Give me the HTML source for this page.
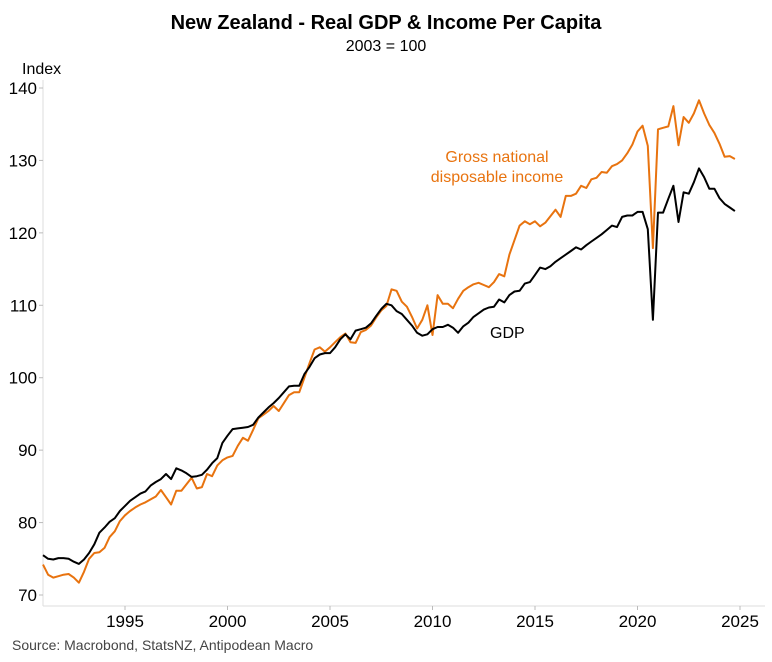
<!DOCTYPE html>
<html><head><meta charset="utf-8"><style>
body{margin:0;background:#fff;font-family:"Liberation Sans",Arial,sans-serif}
svg text{font-family:"Liberation Sans",Arial,sans-serif}
</style></head><body>
<svg id="chart" width="772" height="657">
<text x="386" y="29" text-anchor="middle" font-size="20" font-weight="bold" fill="#000">New Zealand - Real GDP &amp; Income Per Capita</text>
<text x="386" y="51" text-anchor="middle" font-size="16" fill="#000">2003 = 100</text>
<text x="22" y="74" font-size="16" fill="#000">Index</text>
<line x1="43" y1="80" x2="43" y2="606" stroke="#ddd" stroke-width="1"/>
<line x1="43" y1="606" x2="765" y2="606" stroke="#ddd" stroke-width="1"/>
<g id="yticks"></g><g id="xticks"></g><g id="series"></g>
<text x="497" y="162" text-anchor="middle" font-size="16" fill="#e8730f">Gross national</text>
<text x="497" y="182" text-anchor="middle" font-size="16" fill="#e8730f">disposable income</text>
<text x="490" y="338" font-size="16" fill="#000">GDP</text>
<text x="12" y="650" font-size="14" fill="#444">Source: Macrobond, StatsNZ, Antipodean Macro</text>
</svg>
<script>
const startYear = 1991.0;
const yTicks = [70, 80, 90, 100, 110, 120, 130, 140];
const xTicks = [1995, 2000, 2005, 2010, 2015, 2020, 2025];
const gdp = [75.5,75.0,74.9,75.1,75.1,75.0,74.6,74.3,74.9,75.8,77.0,78.6,79.3,80.1,80.6,81.6,82.3,83.0,83.5,84.0,84.3,85.1,85.6,86.0,86.7,86.0,87.5,87.2,86.8,86.3,86.4,86.6,87.3,88.2,88.9,91.0,92.0,92.9,93.0,93.1,93.2,93.5,94.5,95.2,95.9,96.5,97.2,98.0,98.8,98.9,98.9,100.5,101.5,102.7,103.2,103.4,103.4,104.2,105.3,106.0,105.3,106.5,106.7,106.9,107.5,108.5,109.5,110.2,110.0,109.2,108.8,108.0,107.2,106.2,105.8,106.0,106.7,107.0,107.0,107.3,106.9,106.2,107.1,107.6,108.4,108.9,109.4,109.7,109.8,110.8,110.4,111.4,111.9,112.0,113.0,113.2,114.2,115.2,115.0,115.4,116.0,116.5,117.0,117.5,118.0,117.7,118.3,118.8,119.3,119.8,120.4,121.0,120.8,122.2,122.4,122.4,122.9,122.9,120.5,108.0,122.8,122.8,124.7,126.5,121.5,125.6,125.4,127.0,128.9,127.7,126.1,126.1,124.8,124.0,123.5,123.0];
const gndi = [74.2,72.8,72.4,72.6,72.8,72.9,72.4,71.7,73.2,75.0,75.8,75.9,76.5,78.0,78.8,80.2,81.0,81.6,82.1,82.5,82.8,83.2,83.6,84.5,83.5,82.5,84.4,84.4,85.3,86.2,84.7,84.9,86.7,86.4,87.9,88.6,89.0,89.2,90.6,91.7,91.3,92.8,94.4,94.9,95.4,96.1,95.4,96.5,97.6,98.0,98.0,100.0,102.0,103.9,104.2,103.6,104.2,104.9,105.6,106.1,104.9,104.8,106.3,106.6,107.2,108.3,109.3,109.9,112.2,112.0,110.5,109.8,108.4,106.8,108.0,110.0,105.9,111.4,110.2,110.2,109.6,110.9,112.0,112.5,112.9,113.1,112.8,112.5,113.2,114.3,114.0,117.0,119.0,121.0,121.6,121.2,121.6,120.9,121.4,122.3,123.2,122.2,125.1,125.1,125.4,126.5,126.2,127.4,127.6,128.4,128.3,129.2,129.5,130.0,131.0,132.2,134.0,134.8,132.0,117.9,134.3,134.5,134.7,137.5,132.1,136.0,135.2,136.5,138.3,136.5,134.9,133.8,132.3,130.5,130.6,130.2];

const NS="http://www.w3.org/2000/svg";
function yS(v){return 595-(v-70)*(507/70);}
function xS(t){return 125+(t-1995)*20.5;}
function mk(tag,attrs,parent){const e=document.createElementNS(NS,tag);for(const k in attrs)e.setAttribute(k,attrs[k]);parent.appendChild(e);return e;}
const yg=document.getElementById('yticks');
yTicks.forEach(v=>{
  const l=mk('line',{x1:39,x2:43,y1:yS(v),y2:yS(v),stroke:'#bbb'},yg);
  
  
  const t=mk('text',{x:37,y:yS(v)+6,'text-anchor':'end','font-size':17,fill:'#000'},yg);
  t.textContent=v;
  
  
});
const xg=document.getElementById('xticks');
xTicks.forEach(v=>{
  const l=mk('line',{x1:xS(v),x2:xS(v),y1:606,y2:610,stroke:'#bbb'},xg);
  
  
  const t=mk('text',{x:xS(v),y:627,'text-anchor':'middle','font-size':17,fill:'#000'},xg);
  t.textContent=v;
  
  
});
const sg=document.getElementById('series');
function line(arr,color,name){
  const d=arr.map((v,i)=>(i?'L':'M')+xS(startYear+i/4).toFixed(1)+','+yS(v).toFixed(1)).join('');
  const p=mk('path',{d:d,fill:'none',stroke:color,'stroke-width':2,'stroke-linejoin':'round'},sg);
  
  
}
line(gndi,'#e8730f','gndi-line');
line(gdp,'#000','gdp-line');
</script>
</body></html>
